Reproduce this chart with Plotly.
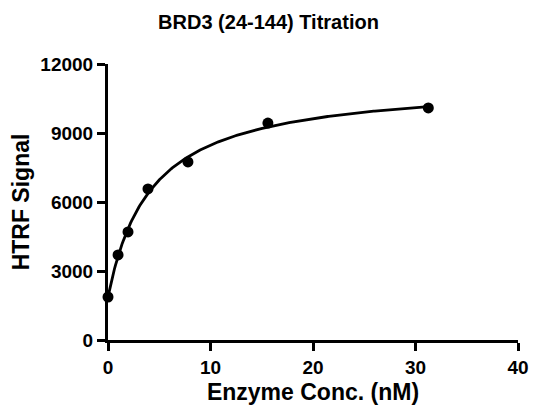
import numpy as np
import plotly.graph_objects as go

# Data
conc_nM = [0.0, 0.98, 1.95, 3.9, 7.8, 15.6, 31.25]
htrf_signal = [1870, 3700, 4700, 6570, 7740, 9430, 10090]

x_ticks = [0, 10, 20, 30, 40]
y_ticks = [0, 3000, 6000, 9000, 12000]

# One-site binding fit (Y = B0 + Bmax*X/(Kd+X)) by least squares on the data
xd = np.array(conc_nM)
yd = np.array(htrf_signal, dtype=float)
best = None
for kd in np.linspace(0.5, 15, 2901):
    A = np.column_stack([np.ones_like(xd), xd / (kd + xd)])
    coef, *_ = np.linalg.lstsq(A, yd, rcond=None)
    sse = float(np.sum((A @ coef - yd) ** 2))
    if best is None or sse < best[0]:
        best = (sse, kd, coef)
_, kd_fit, (b0_fit, bmax_fit) = best
xf = np.linspace(0, max(conc_nM), 300)
yf = b0_fit + bmax_fit * xf / (kd_fit + xf)

fig = go.Figure()
fig.add_trace(go.Scatter(x=xf, y=yf, mode="lines",
                         line=dict(color="black", width=2.8),
                         cliponaxis=False, hoverinfo="skip"))
fig.add_trace(go.Scatter(x=conc_nM, y=htrf_signal, mode="markers",
                         marker=dict(color="black", size=11),
                         cliponaxis=False))

font_family = "Liberation Sans, Arial, sans-serif"
W, H = 521, 398  # visible area inside the page body's 8px margin
fig.update_layout(
    width=W, height=H,
    margin=dict(l=100, r=11, t=56, b=66, autoexpand=False),
    paper_bgcolor="white", plot_bgcolor="white",
    showlegend=False,
    title=dict(text="<b>BRD3 (24-144) Titration</b>", x=0.5, xanchor="center",
               y=1 - 13.5 / H, yanchor="middle",
               font=dict(family=font_family, size=20, color="black")),
    font=dict(family=font_family, color="black"),
)
fig.update_xaxes(range=[0, 40], tickvals=x_ticks,
                 ticktext=[f"<b>{v}</b>" for v in x_ticks],
                 ticklabeloverflow="allow",
                 showgrid=False, zeroline=False, automargin=False,
                 showline=True, linecolor="black", linewidth=3,
                 ticks="outside", ticklen=8, tickwidth=3, tickcolor="black",
                 tickfont=dict(size=19, family=font_family, color="black"),
                 title=dict(text="<b>Enzyme Conc. (nM)</b>", standoff=8,
                            font=dict(size=23, family=font_family, color="black")))
fig.update_yaxes(range=[0, 12000], tickvals=y_ticks,
                 ticktext=[f"<b>{v}</b>" for v in y_ticks],
                 ticklabeloverflow="allow",
                 showgrid=False, zeroline=False, automargin=False,
                 showline=True, linecolor="black", linewidth=3,
                 ticks="outside", ticklen=8, tickwidth=3, tickcolor="black",
                 tickfont=dict(size=19, family=font_family, color="black"),
                 title=dict(text="<b>HTRF Signal</b>", standoff=10,
                            font=dict(size=23, family=font_family, color="black")))

fig.write_html("out.html")
